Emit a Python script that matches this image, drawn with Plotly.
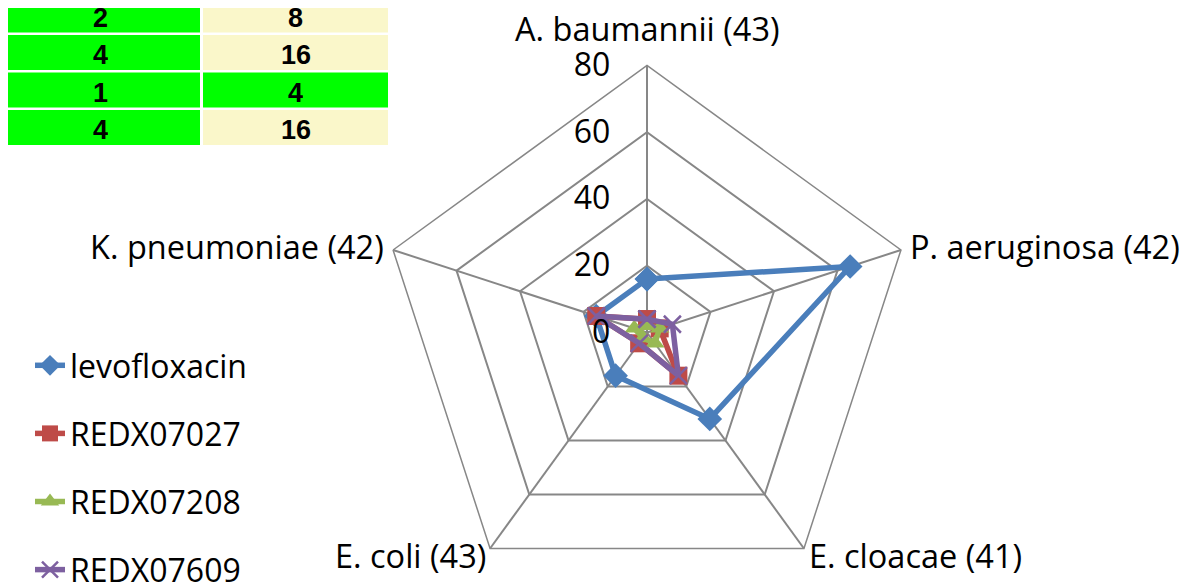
import math
import plotly.graph_objects as go

# ---- data ----
categories = ["A. baumannii (43)", "P. aeruginosa (42)", "E. cloacae (41)",
              "E. coli (43)", "K. pneumoniae (42)"]
levofloxacin = [16, 64, 32, 16, 16]
redx07027 = [4, 4, 16, 4, 16]
redx07208 = [2, 4, 4, 2, 4]
redx07609 = [4, 8, 16, 4, 16]
radial_ticks = [0, 20, 40, 60, 80]

# small MIC table (top-left, top rows cut off by the crop)
table_col1 = [2, 4, 1, 4]
table_col2 = [8, 16, 4, 16]

# ---- styles / geometry (figure pixels; page sits 8 px inside the body) ----
W, H = 1188, 600
OFF = 8                              # body margin of the html page
CX, CY, R = 639, 324.5, 267          # polar centre / radius in figure pixels
GREEN_CELL = "#00FF00"
YELLOW_CELL = "#FAF7CA"
GRID = "#878787"
FONT = "Open Sans"

# table cell layout (page pixels)
COL_LEFT = [0, 203]
COL_WIDTH = [200, 185]
ROW_TOP0 = -2.5
ROW_PITCH = 37.5
ROW_HEIGHT = 35
TEXT_DROP = 3


def cell_color(v):
    return GREEN_CELL if v <= 4 else YELLOW_CELL


series = [
    ("levofloxacin", levofloxacin, "#4A7EBB", "diamond", 19, None),
    ("REDX07027", redx07027, "#BE4B48", "square", 18, None),
    ("REDX07208", redx07208, "#98B954", "triangle-up", 17, None),
    ("REDX07609", redx07609, "#7D60A0", "x-thin", 17, 2.5),
]

fig = go.Figure()

for name, vals, color, symbol, msize, mline in series:
    marker = dict(symbol=symbol, size=msize, color=color)
    if mline:
        marker["line"] = dict(color=color, width=mline)
    fig.add_trace(go.Scatterpolar(
        r=vals + vals[:1],
        theta=categories + categories[:1],
        mode="lines+markers",
        name=name,
        legendgroup=name,
        line=dict(color=color, width=5.5),
        marker=marker,
    ))

# table cells: filled rectangles + bold values
for c, col in enumerate([table_col1, table_col2]):
    for r_i, v in enumerate(col):
        top = ROW_TOP0 + r_i * ROW_PITCH - OFF
        left = COL_LEFT[c] - OFF
        fig.add_shape(
            type="rect", xref="paper", yref="paper",
            x0=left / W, x1=(left + COL_WIDTH[c]) / W,
            y0=1 - (top + ROW_HEIGHT) / H, y1=1 - top / H,
            fillcolor=cell_color(v), line=dict(width=0), layer="below",
        )
        fig.add_annotation(
            x=(left + COL_WIDTH[c] / 2) / W,
            y=1 - (top + ROW_HEIGHT / 2 + TEXT_DROP) / H,
            xref="paper", yref="paper", xanchor="center", yanchor="middle",
            height=20, valign="middle",
            text=str(v), showarrow=False,
            font=dict(family="Liberation Sans", size=27, color="black",
                      weight="bold"),
        )

# category labels placed beside the pentagon corners
label_place = [
    ("center", "bottom", 0, 12),
    ("left", "middle", 7, 3),
    ("left", "middle", 3, -7),
    ("right", "middle", -2, -7),
    ("right", "middle", -7, 3),
]
n = len(categories)
for k, (cat, (xa, ya, dx, dy)) in enumerate(zip(categories, label_place)):
    ang = 2 * math.pi * k / n
    vx = CX + R * math.sin(ang)
    vy = CY - R * math.cos(ang)
    fig.add_annotation(
        x=vx / W, y=1 - vy / H, xref="paper", yref="paper",
        text=cat, showarrow=False, xanchor=xa, yanchor=ya,
        xshift=dx, yshift=dy,
        font=dict(family=FONT, size=32.5, color="black"),
    )

fig.update_layout(
    width=W, height=H,
    margin=dict(l=0, r=0, t=0, b=0),
    paper_bgcolor="white",
    plot_bgcolor="rgba(0,0,0,0)",
    font=dict(family=FONT, size=32, color="black"),
    showlegend=True,
    legend=dict(
        x=22 / W, y=1 - 330 / H, xanchor="left", yanchor="top",
        font=dict(family=FONT, size=32, color="black"),
        tracegroupgap=23.5,
        bgcolor="rgba(0,0,0,0)",
    ),
    polar=dict(
        domain=dict(x=[(CX - R) / W, (CX + R) / W],
                    y=[(H - CY - R) / H, (H - CY + R) / H]),
        gridshape="linear",
        bgcolor="rgba(0,0,0,0)",
        radialaxis=dict(
            range=[0, 80],
            tickvals=radial_ticks,
            angle=90,
            tickangle=90,
            side="counterclockwise",
            showline=False,
            gridcolor=GRID,
            gridwidth=1.5,
            ticks="outside",
            ticklen=25,
            tickcolor="rgba(0,0,0,0)",
            tickfont=dict(family=FONT, size=32, color="black"),
        ),
        angularaxis=dict(
            rotation=90,
            direction="clockwise",
            showline=True,
            linecolor=GRID,
            linewidth=1.5,
            gridcolor=GRID,
            gridwidth=1.5,
            ticks="",
            showticklabels=False,
        ),
    ),
)

fig.write_html("out.html")
